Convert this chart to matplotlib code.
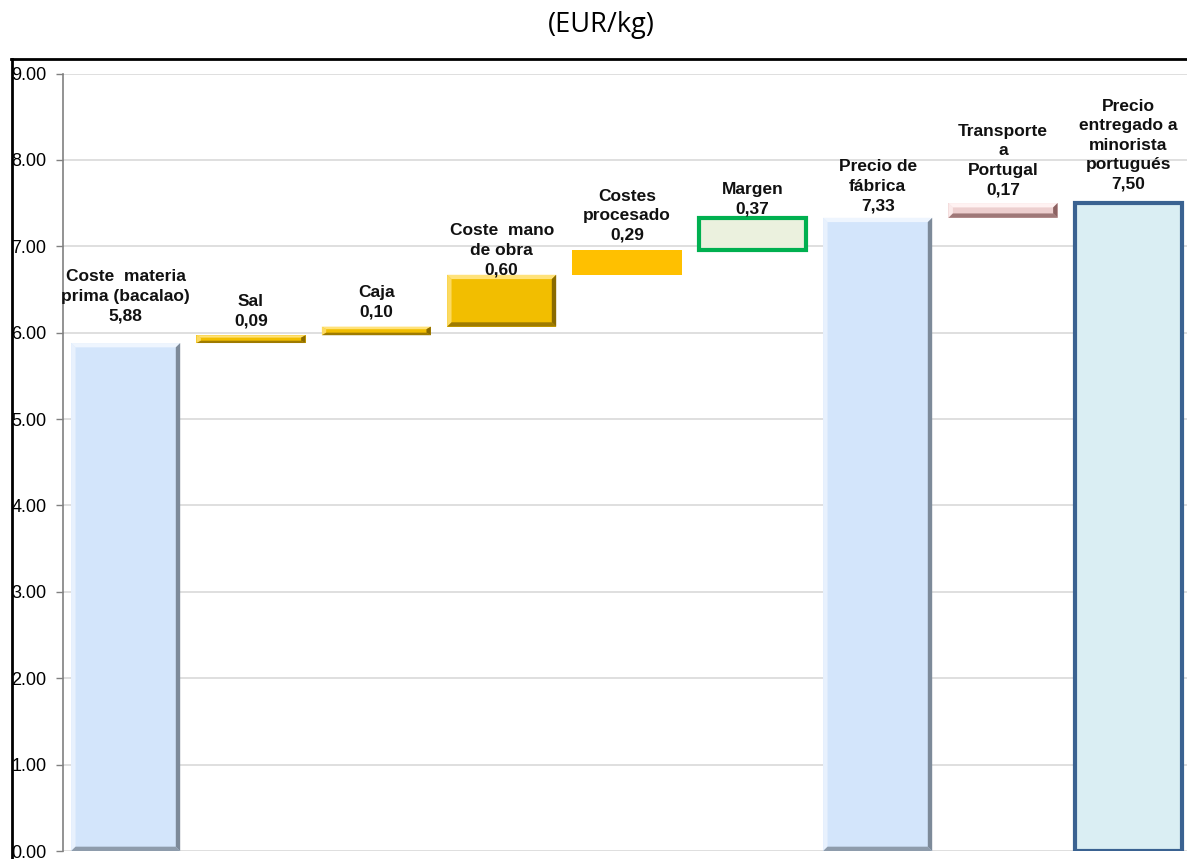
import numpy as np
import matplotlib
matplotlib.use("Agg")
import matplotlib.pyplot as plt
from matplotlib.patches import Polygon
from matplotlib.lines import Line2D

# waterfall data (EUR/kg)
labels = ["Coste  materia\nprima (bacalao)", "Sal", "Caja", "Coste  mano\nde obra",
          "Costes\nprocesado", "Margen", "Precio de\nfábrica", "Transporte\na\nPortugal",
          "Precio\nentregado a\nminorista\nportugués"]
values = [5.88, 0.09, 0.10, 0.60, 0.29, 0.37, 7.33, 0.17, 7.50]
bases = [0.00, 5.88, 5.97, 6.07, 6.67, 6.96, 0.00, 7.33, 0.00]
value_txt = ["5,88", "0,09", "0,10", "0,60", "0,29", "0,37", "7,33", "0,17", "7,50"]

# styles per bar: (face, light bevel, dark bevel, edge, edge width, bevel)
styles = [
    ("#D3E5FB", "#EEF5FE", "#7D8A99", None, 0, True),
    ("#F2BE00", "#FFE27A", "#8A6A00", None, 0, True),
    ("#F2BE00", "#FFE27A", "#8A6A00", None, 0, True),
    ("#F2BE00", "#FFE27A", "#8A6A00", None, 0, True),
    ("#FFC000", None, None, None, 0, False),
    ("#EBF1DE", None, None, "#00B050", 3, False),
    ("#D3E5FB", "#EEF5FE", "#7D8A99", None, 0, True),
    ("#EDCFCF", "#FFF2F2", "#8C6262", None, 0, True),
    ("#DAEEF3", None, None, "#3A6291", 3, False),
]
# nudge of value labels above the bar top (points)
label_gap = [14, 5, 5, -2, 5, 1, 3, 4, 8]

plt.rcParams['font.family'] = ['Liberation Sans', 'DejaVu Sans']

fig = plt.figure(figsize=(11.87, 8.59), dpi=100)
ax = fig.add_axes([63/1187, 8/859, 1128/1187, 777.5/859])

x = np.arange(len(values))
width = 0.87
ax.set_xlim(-0.5, len(values) - 0.5)
ax.set_ylim(0, 9)

for i in range(len(values)):
    face, light, dark, edge, lw, bevel = styles[i]
    b, h = bases[i], values[i]
    if edge is not None:
        ax.bar(x[i], h, width - 0.02, bottom=b, color=face, edgecolor=edge,
               linewidth=lw, zorder=3)
    else:
        ax.bar(x[i], h, width, bottom=b, color=face, linewidth=0, zorder=3)
    if bevel:
        x0, x1 = x[i] - width / 2, x[i] + width / 2
        y0, y1 = b, b + h
        dx = 0.035
        dy = min(0.05, h * 0.3)
        # top + left light, right + bottom dark
        ax.add_patch(Polygon([(x0, y1), (x1, y1), (x1 - dx, y1 - dy), (x0 + dx, y1 - dy)],
                             closed=True, color=light, lw=0, zorder=4))
        ax.add_patch(Polygon([(x0, y0), (x0, y1), (x0 + dx, y1 - dy), (x0 + dx, y0 + dy)],
                             closed=True, color=light, lw=0, zorder=4, alpha=0.8))
        ax.add_patch(Polygon([(x1, y0), (x1, y1), (x1 - dx, y1 - dy), (x1 - dx, y0 + dy)],
                             closed=True, color=dark, lw=0, zorder=4))
        ax.add_patch(Polygon([(x0, y0), (x1, y0), (x1 - dx, y0 + dy), (x0 + dx, y0 + dy)],
                             closed=True, color=dark, lw=0, zorder=4, alpha=0.8))
    ax.annotate(labels[i] + "\n" + value_txt[i], (x[i], b + h),
                xytext=(0, label_gap[i]), textcoords="offset points",
                ha="center", va="bottom", fontsize=12.5, fontweight="bold",
                linespacing=1.38, color="#111111", zorder=5)

ax.set_yticks(np.arange(0, 10, 1))
ax.set_yticklabels([f"{v:.2f}" for v in np.arange(0, 10, 1)])
ax.set_xticks([])
ax.tick_params(axis="y", length=5, width=1, color="#808080", pad=7, labelsize=13)
ax.grid(axis="y", color="#D9D9D9", linewidth=1.2, zorder=0)
for s in ["top", "right", "bottom"]:
    ax.spines[s].set_visible(False)
ax.spines["left"].set_color("#808080")
ax.spines["left"].set_linewidth(1.2)

# outer chart frame
fig.add_artist(Line2D([11/1187, 1.0], [1 - 59/859, 1 - 59/859], color="black", lw=2))
fig.add_artist(Line2D([12/1187, 12/1187], [0, 1 - 59/859], color="black", lw=2))

fig.text(0.507, 1 - 25/859, "(EUR/kg)", ha="center", va="center", fontsize=19.5,
         family=["Open Sans", "DejaVu Sans"])

fig.savefig("out.png", dpi=100)
